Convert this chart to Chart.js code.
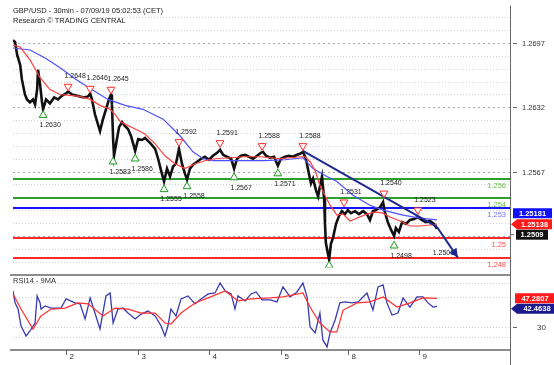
<!DOCTYPE html>
<html>
<head>
<meta charset="utf-8">
<script src="https://cdn.jsdelivr.net/npm/chart.js@4"></script>
<style>
  body { margin: 0; background: #fff; }
  #wrap { position: relative; width: 554px; height: 365px; overflow: hidden; }
  #mainBox { position: absolute; left: 0; top: 0; }
  #rsiBox { position: absolute; left: 0; top: 270px; }
</style>
</head>
<body>
<div id="wrap">
  <div id="mainBox"><canvas id="mainChart" width="554" height="273"></canvas></div>
  <div id="rsiBox"><canvas id="rsiChart" width="554" height="95"></canvas></div>
</div>
<script>
// time axis = trading hours from 2 Jul 00:00 CET (weekend taken out)
var dayTicks = [0, 24, 48, 72, 94.5, 118.5];
var dayLabels = ['2', '3', '4', '5', '8', '9'];

var priceTime = [-17.8,-17.1,-16.4,-15.4,-14.8,-13.8,-13.1,-12.1,-11.1,-10.4,-9.7,-9.4,-8.7,-8.1,-7.7,-6.7,-5.4,-4.0,-2.7,-1.3,
  0,0.7,2.0,3.4,4.7,6.0,7.4,8.1,8.7,9.7,10.7,11.4,12.4,13.4,14.4,15.1,15.4,15.8,16.1,16.8,
  17.8,18.8,19.8,20.8,21.8,23.2,24.2,25.5,26.5,27.5,28.5,29.9,30.9,31.9,32.9,33.9,34.9,35.9,36.9,37.9,
  38.9,39.9,40.6,41.6,42.6,44.0,45.3,46.6,48.0,49.3,50.7,51.7,52.7,54.0,55.4,56.4,57.4,58.7,60.1,61.4,
  62.8,64.1,65.4,66.1,67.1,68.5,69.8,71.1,72.1,73.5,74.8,76.2,77.5,78.5,79.5,80.5,81.5,82.2,82.9,83.9,
  84.6,85.2,85.9,86.6,86.9,87.2,87.9,88.3,88.9,89.6,90.6,91.6,92.6,93.6,94.6,95.6,97.0,98.3,99.7,101.0,
  102.0,103.0,104.0,105.4,106.4,107.0,108.1,109.1,110.1,110.7,111.7,112.8,114.1,115.4,116.8,118.1,119.5,120.8,122.1,123.5,124.5];
var priceClose = [1.2700,1.2698,1.2685,1.2675,1.2660,1.2645,1.2640,1.2637,1.2640,1.2635,1.2650,1.2670,1.2655,1.2638,1.2630,1.2640,1.2636,1.2642,1.2640,1.2644,
  1.2646,1.2648,1.2645,1.2644,1.2643,1.2642,1.2643,1.2646,1.2640,1.2625,1.2615,1.2608,1.2620,1.2630,1.2640,1.2645,1.2635,1.2600,1.2583,1.2595,
  1.2612,1.2617,1.2613,1.2610,1.2603,1.2588,1.2600,1.2599,1.2601,1.2598,1.2595,1.2590,1.2580,1.2568,1.2557,1.2570,1.2562,1.2572,1.2575,1.2590,
  1.2575,1.2565,1.2559,1.2570,1.2574,1.2577,1.2580,1.2582,1.2579,1.2583,1.2586,1.2589,1.2584,1.2582,1.2580,1.2570,1.2580,1.2583,1.2584,1.2582,
  1.2580,1.2583,1.2586,1.2587,1.2583,1.2581,1.2582,1.2573,1.2580,1.2582,1.2583,1.2582,1.2584,1.2585,1.2587,1.2580,1.2565,1.2555,1.2560,1.2548,
  1.2542,1.2552,1.2562,1.2540,1.2515,1.2495,1.2484,1.2478,1.2494,1.2500,1.2514,1.2522,1.2527,1.2524,1.2528,1.2525,1.2527,1.2524,1.2527,1.2524,
  1.2518,1.2527,1.2528,1.2531,1.2536,1.2526,1.2515,1.2508,1.2502,1.2510,1.2506,1.2516,1.2514,1.2518,1.2519,1.2521,1.2518,1.2516,1.2517,1.2514,1.2509];

var fastMaTime = [-17.8,-15.4,-12.1,-8.7,-5.4,-2.0,1.3,4.7,8.1,11.4,14.8,16.4,18.1,19.8,23.2,26.5,29.9,33.2,36.6,39.9,
  43.3,46.6,50.0,55.0,60.1,65.1,71.8,78.5,80.2,81.9,83.6,85.2,86.9,88.6,90.9,93.0,95.3,97.7,101.0,103.7,
  106.4,108.7,112.1,115.4,118.8,122.1,124.5];
var fastMaValue = [1.2695,1.2693,1.2680,1.2662,1.2650,1.2645,1.2644,1.2643,1.2640,1.2634,1.2630,1.2625,1.2618,1.2615,1.2610,1.2605,1.2595,1.2583,1.2575,1.2570,
  1.2575,1.2578,1.2580,1.2581,1.2582,1.2582,1.2580,1.2582,1.2582,1.2577,1.2568,1.2553,1.2543,1.2533,1.2523,1.2524,1.2517,1.2520,1.2524,1.2526,
  1.2525,1.2521,1.2517,1.2512,1.2512,1.2513,1.25138];

var slowMaTime = [-17.8,-12.1,-7.0,-2.0,3.0,8.1,14.1,19.8,25.8,32.6,38.3,42.6,46.0,49.3,54.0,60.1,66.8,73.5,79.5,82.9,
  86.9,90.9,96.3,102.0,106.4,113.1,118.8,124.5];
var slowMaValue = [1.2692,1.2690,1.2682,1.2672,1.2661,1.2651,1.2640,1.2634,1.2630,1.2620,1.2603,1.2587,1.2580,1.2578,1.2578,1.2578,1.2578,1.2579,1.2581,1.2570,
  1.2563,1.2557,1.2543,1.2533,1.2528,1.2523,1.2520,1.25181];

var highTime = [0.7, 8.1, 15.1, 37.9, 51.7, 65.8, 79.5, 93.3, 106.7, 118.1];
var highValue = [1.2648, 1.2646, 1.2645, 1.2592, 1.2591, 1.2588, 1.2588, 1.2531, 1.2540, 1.2523];
var lowTime = [-7.7, 15.8, 23.2, 32.9, 40.6, 56.4, 71.1, 88.3, 110.1, 124.3];
var lowValue = [1.2630, 1.2583, 1.2586, 1.2555, 1.2558, 1.2567, 1.2571, 1.2478, 1.2498, 1.2501];

var trendTime = [79.5, 124.5];
var trendValue = [1.2588, 1.2511];
var forecastTime = [124.5, 131.5];
var forecastValue = [1.2511, 1.2480];

var levelValues = [1.256, 1.254, 1.253, 1.250, 1.248];
var levelLabels = ['1.256', '1.254', '1.253', '1.25', '1.248'];

var axisTicks = [1.2697, 1.2632, 1.2567];

var rsiTime = [-17.8,-17.1,-16.1,-15.1,-13.4,-12.1,-10.4,-9.7,-8.7,-8.4,-7.0,-5.0,-1.7,0,3.0,4.7,6.4,8.1,9.7,11.4,
  13.4,14.8,15.8,17.4,19.1,20.8,23.2,25.2,27.5,29.9,31.9,33.2,34.2,35.2,36.9,38.6,40.9,43.3,45.3,47.7,
  50.0,51.7,53.4,55.4,56.7,57.7,60.1,62.1,63.8,65.8,68.5,70.8,72.8,75.2,77.5,79.5,80.9,81.9,83.6,85.2,
  86.2,87.6,88.6,90.3,91.9,93.6,96.0,98.0,101.0,103.0,104.7,106.4,107.7,109.4,111.4,113.1,115.4,117.8,119.8,121.5,123.2,124.5];
var rsiValue = [51.7,44.5,40.8,30.6,24.6,27.6,32.4,48.7,44.5,40.8,42.7,41.4,41.4,46.9,44.5,43.9,34.8,47.5,38.4,28.8,
  48.7,50.5,32.4,40.8,41.4,38.4,34.8,37.8,39.6,36.6,30.6,24.6,30.6,40.8,36.6,46.9,48.7,43.9,46.9,49.9,
  50.5,56.5,51.7,49.9,40.8,48.7,45.7,49.9,51.1,46.3,46.3,45.1,54.1,48.1,51.1,56.5,48.1,30.0,26.4,38.4,
  22.2,18.0,26.4,34.2,44.5,45.1,44.5,45.1,50.5,40.2,54.1,55.3,44.5,37.2,38.4,47.5,42.0,48.1,48.1,44.5,42.0,42.4638];

var rsiMaTime = [-17.8,-15.1,-11.1,-8.4,-5.0,-0.3,4.0,7.4,12.4,16.4,20.8,25.2,29.9,33.2,35.2,38.6,43.3,47.7,53.4,57.7,
  62.1,68.5,72.8,79.5,81.9,85.2,88.6,90.9,93.0,97.7,102.0,106.4,111.1,115.4,119.8,124.5];
var rsiMaValue = [49.9,40.8,28.8,36.6,40.8,41.4,44.5,43.9,36.6,41.4,40.8,38.4,38.4,32.4,31.8,38.4,44.5,47.5,51.7,45.7,
  46.9,47.5,48.1,50.5,42.0,32.4,27.0,27.0,40.2,44.5,45.1,48.1,42.0,44.5,47.5,47.2807];
var rsiGrid = [24, 30, 48, 56.5];

var FONT = '"Liberation Sans", Arial, sans-serif';
var NAVY = '#1f2a8c';
var levelColors = ['#2ca02c', '#2ca02c', '#1515ff', '#ff2a2a', '#ff2a2a'];
var levelTextColors = ['#6aba4a', '#6aba4a', '#7070ff', '#ff5050', '#ff5050'];

function pts(xs, ys) {
  return xs.map(function (x, i) { return { x: x, y: ys[i] }; });
}
function last(a) { return a[a.length - 1]; }

function tag(ctx, x, yMid, w, text, bg, pointer) {
  var h = 10;
  ctx.fillStyle = bg;
  ctx.beginPath();
  if (pointer) {
    ctx.moveTo(x - 6, yMid);
    ctx.lineTo(x, yMid - h / 2);
  } else {
    ctx.moveTo(x, yMid - h / 2);
  }
  ctx.lineTo(x + w, yMid - h / 2);
  ctx.lineTo(x + w, yMid + h / 2);
  ctx.lineTo(x, yMid + h / 2);
  ctx.closePath();
  ctx.fill();
  ctx.fillStyle = '#fff';
  ctx.font = 'bold 7.5px ' + FONT;
  ctx.textAlign = 'center';
  ctx.textBaseline = 'middle';
  ctx.fillText(text, x + w / 2, yMid + 0.5);
}

var mainDecor = {
  id: 'mainDecor',
  beforeDatasetsDraw: function (chart) {
    var ctx = chart.ctx, a = chart.chartArea, ys = chart.scales.y;
    ctx.save();
    ctx.lineWidth = 1;
    // dotted grid every 0.0013, stronger on the labelled ones
    for (var k = -2; k <= 17; k++) {
      var v = axisTicks[0] - k * 0.0013;
      var py = Math.round(ys.getPixelForValue(v)) + 0.5;
      var major = k % 5 === 0;
      ctx.strokeStyle = major ? '#a8a8a8' : '#d2d2d2';
      ctx.setLineDash(major ? [2, 3] : [1, 2]);
      ctx.beginPath();
      ctx.moveTo(a.left, py);
      ctx.lineTo(a.right, py);
      ctx.stroke();
    }
    ctx.setLineDash([]);
    ctx.lineWidth = 2;
    ctx.font = '7.5px ' + FONT;
    ctx.textAlign = 'right';
    ctx.textBaseline = 'middle';
    levelValues.forEach(function (v, i) {
      var py = Math.round(ys.getPixelForValue(v));
      ctx.strokeStyle = levelColors[i];
      ctx.beginPath();
      ctx.moveTo(a.left, py);
      ctx.lineTo(a.right, py);
      ctx.stroke();
      ctx.fillStyle = levelTextColors[i];
      ctx.fillText(levelLabels[i], a.right - 4, py + 7);
    });
    ctx.restore();
  },
  afterDatasetsDraw: function (chart) {
    var ctx = chart.ctx, xs = chart.scales.x, ys = chart.scales.y;
    ctx.save();
    ctx.font = '7px ' + FONT;
    ctx.fillStyle = '#222';
    ctx.textAlign = 'center';
    ctx.textBaseline = 'middle';
    highTime.forEach(function (t, i) {
      ctx.fillText(highValue[i].toFixed(4), xs.getPixelForValue(t) + 7, ys.getPixelForValue(highValue[i]) - 15);
    });
    lowTime.forEach(function (t, i) {
      ctx.fillText(lowValue[i].toFixed(4), xs.getPixelForValue(t) + 7, ys.getPixelForValue(lowValue[i]) + 16);
    });
    // arrow head on the forecast line
    var x1 = xs.getPixelForValue(forecastTime[0]), y1 = ys.getPixelForValue(forecastValue[0]);
    var x2 = xs.getPixelForValue(last(forecastTime)), y2 = ys.getPixelForValue(last(forecastValue));
    var ang = Math.atan2(y2 - y1, x2 - x1);
    ctx.fillStyle = NAVY;
    ctx.beginPath();
    ctx.moveTo(x2, y2);
    ctx.lineTo(x2 - 9 * Math.cos(ang) + 4.5 * Math.sin(ang), y2 - 9 * Math.sin(ang) - 4.5 * Math.cos(ang));
    ctx.lineTo(x2 - 9 * Math.cos(ang) - 4.5 * Math.sin(ang), y2 - 9 * Math.sin(ang) + 4.5 * Math.cos(ang));
    ctx.closePath();
    ctx.fill();
    ctx.restore();
  },
  afterDraw: function (chart) {
    var ctx = chart.ctx, a = chart.chartArea, ys = chart.scales.y;
    ctx.save();
    ctx.strokeStyle = '#666';
    ctx.lineWidth = 1;
    ctx.beginPath();
    ctx.moveTo(a.right + 0.5, a.top);
    ctx.lineTo(a.right + 0.5, chart.height);
    ctx.stroke();

    ctx.font = '7.5px ' + FONT;
    ctx.fillStyle = '#333';
    ctx.textAlign = 'left';
    ctx.textBaseline = 'middle';
    axisTicks.forEach(function (v) {
      var py = Math.round(ys.getPixelForValue(v)) + 0.5;
      ctx.beginPath();
      ctx.moveTo(a.right + 3, py);
      ctx.lineTo(a.right + 7, py);
      ctx.stroke();
      ctx.fillText(v.toFixed(4), a.right + 12, py);
    });

    ctx.fillStyle = '#222';
    ctx.fillText('GBP/USD - 30min - 07/09/19 05:02:53 (CET)', 13, 11);
    ctx.fillText('Research \u00a9 TRADING CENTRAL', 13, 21);

    var redY = ys.getPixelForValue(last(fastMaValue));
    tag(ctx, a.right + 3, redY - 11, 39, last(slowMaValue).toFixed(5), '#1010ff', false);
    tag(ctx, a.right + 7, redY, 35, last(fastMaValue).toFixed(5), '#ff1a1a', true);
    ctx.strokeStyle = '#666';
    ctx.beginPath();
    ctx.moveTo(a.right + 1, redY + 10.5);
    ctx.lineTo(a.right + 4, redY + 10.5);
    ctx.stroke();
    tag(ctx, a.right + 6, redY + 10.5, 32, last(priceClose).toFixed(4), '#111', false);
    ctx.restore();
  }
};

var rsiDecor = {
  id: 'rsiDecor',
  beforeDatasetsDraw: function (chart) {
    var ctx = chart.ctx, a = chart.chartArea, ys = chart.scales.y;
    ctx.save();
    ctx.strokeStyle = '#cfcfcf';
    ctx.lineWidth = 1;
    ctx.setLineDash([1, 2]);
    rsiGrid.forEach(function (v) {
      var py = Math.round(ys.getPixelForValue(v)) + 0.5;
      ctx.beginPath();
      ctx.moveTo(a.left, py);
      ctx.lineTo(a.right, py);
      ctx.stroke();
    });
    ctx.restore();
  },
  afterDraw: function (chart) {
    var ctx = chart.ctx, a = chart.chartArea, xs = chart.scales.x, ys = chart.scales.y;
    ctx.save();
    ctx.fillStyle = '#8c8c8c';
    ctx.fillRect(10, a.top - 2, a.right - 10, 2);
    ctx.fillRect(10, a.bottom, a.right - 10, 2);

    ctx.strokeStyle = '#666';
    ctx.lineWidth = 1;
    ctx.beginPath();
    ctx.moveTo(a.right + 0.5, 0);
    ctx.lineTo(a.right + 0.5, chart.height);
    ctx.stroke();

    ctx.font = '7.5px ' + FONT;
    ctx.fillStyle = '#333';
    ctx.textAlign = 'left';
    ctx.textBaseline = 'middle';
    ctx.fillText('RSI14 - 9MA', 13, a.top + 5);

    var p30 = Math.round(ys.getPixelForValue(30)) + 0.5;
    ctx.beginPath();
    ctx.moveTo(a.right + 3, p30);
    ctx.lineTo(a.right + 7, p30);
    ctx.stroke();
    ctx.font = '8px ' + FONT;
    ctx.fillText('30', a.right + 27, p30);

    dayTicks.forEach(function (t, i) {
      var px = Math.round(xs.getPixelForValue(t)) + 0.5;
      ctx.beginPath();
      ctx.moveTo(px, a.bottom + 1);
      ctx.lineTo(px, a.bottom + 6);
      ctx.stroke();
      ctx.fillText(dayLabels[i], px + 3, a.bottom + 8);
    });

    var maY = ys.getPixelForValue(last(rsiMaValue));
    var rY = Math.max(ys.getPixelForValue(last(rsiValue)), maY + 10.5);
    tag(ctx, a.right + 5, maY, 40, last(rsiMaValue).toFixed(4), '#ff1a1a', false);
    tag(ctx, a.right + 7, rY, 40, last(rsiValue).toFixed(4), '#1a1a8c', true);
    ctx.restore();
  }
};

var xRange = { type: 'linear', min: -17.8, max: 149.0, display: false };

new Chart(document.getElementById('mainChart'), {
  type: 'line',
  data: {
    datasets: [
      { type: 'scatter', data: pts(highTime, highValue.map(function (v) { return v + 0.0005; })),
        pointStyle: 'triangle', rotation: 180, pointRadius: 4.5, borderColor: '#ff2a2a',
        backgroundColor: '#fff', borderWidth: 1 },
      { type: 'scatter', data: pts(lowTime, lowValue.map(function (v) { return v - 0.0006; })),
        pointStyle: 'triangle', pointRadius: lowValue.map(function (v, i) { return i === lowValue.length - 1 ? 0 : 4.5; }),
        borderColor: '#1f9a1f', backgroundColor: '#fff', borderWidth: 1 },
      { data: pts(forecastTime, forecastValue), borderColor: NAVY, borderWidth: 2, pointRadius: 0 },
      { data: pts(trendTime, trendValue), borderColor: NAVY, borderWidth: 2, pointRadius: 0 },
      { data: pts(fastMaTime, fastMaValue), borderColor: '#ff4040', borderWidth: 1.2, pointRadius: 0 },
      { data: pts(slowMaTime, slowMaValue), borderColor: '#5050ff', borderWidth: 1.2, pointRadius: 0 },
      { data: pts(priceTime, priceClose), borderColor: '#111', borderWidth: 2.6, pointRadius: 0 }
    ]
  },
  options: {
    responsive: false,
    animation: false,
    layout: { padding: { left: 13, top: 5, bottom: 3, right: 0 } },
    plugins: { legend: { display: false }, tooltip: { enabled: false } },
    scales: {
      x: xRange,
      y: {
        position: 'right', min: 1.2470, max: 1.2735,
        afterFit: function (s) { s.width = 44; },
        ticks: { display: false },
        grid: { display: false },
        border: { display: false }
      }
    }
  },
  plugins: [mainDecor]
});

new Chart(document.getElementById('rsiChart'), {
  type: 'line',
  data: {
    datasets: [
      { data: pts(rsiMaTime, rsiMaValue), borderColor: '#ff3030', borderWidth: 1.2, pointRadius: 0 },
      { data: pts(rsiTime, rsiValue), borderColor: '#3a3ab0', borderWidth: 1.3, pointRadius: 0 }
    ]
  },
  options: {
    responsive: false,
    animation: false,
    layout: { padding: { left: 13, top: 6, bottom: 16, right: 0 } },
    plugins: { legend: { display: false }, tooltip: { enabled: false } },
    scales: {
      x: xRange,
      y: {
        position: 'right', min: 16.75, max: 60.7,
        afterFit: function (s) { s.width = 44; },
        ticks: { display: false },
        grid: { display: false },
        border: { display: false }
      }
    }
  },
  plugins: [rsiDecor]
});
</script>
</body>
</html>
